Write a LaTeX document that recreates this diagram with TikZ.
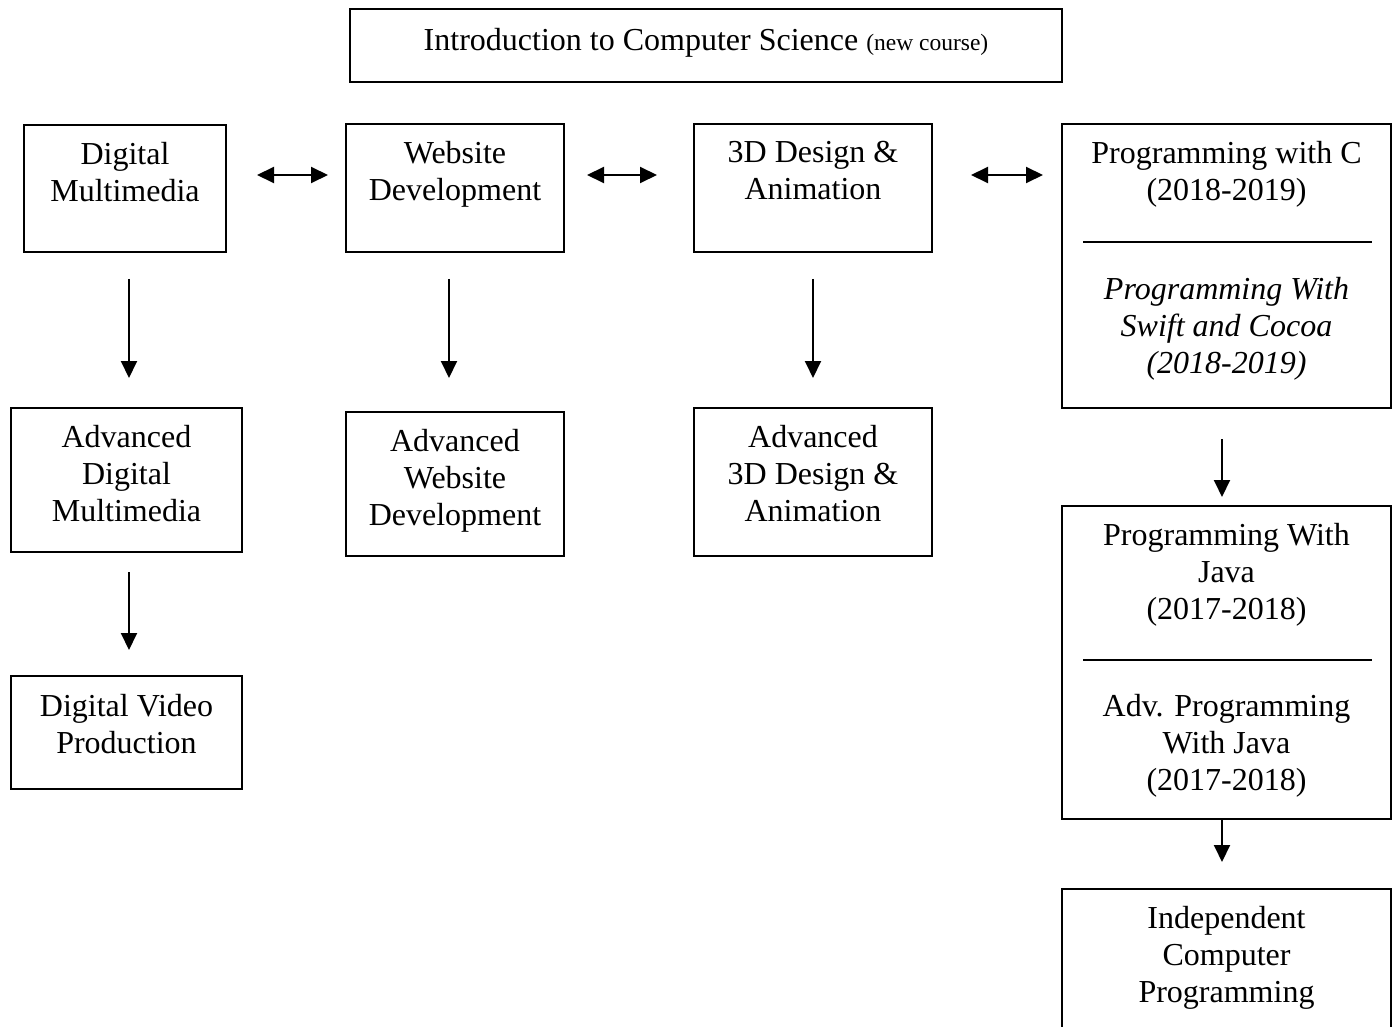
\documentclass[tikz,border=0pt]{standalone}
\usepackage{fontspec}
\setmainfont{Liberation Serif}
\usetikzlibrary{arrows.meta}
\begin{document}
\begin{tikzpicture}[x=1pt,y=-1pt,
  box/.style={draw, line width=2pt, inner sep=0pt, anchor=north west},
  txt/.style={anchor=north, inner sep=0pt, align=center, font=\fontsize{32}{37}\selectfont},
  arr/.style={line width=2pt, -{Triangle[length=17pt,width=16pt]}},
  darr/.style={line width=2pt, {Triangle[length=17pt,width=16pt]}-{Triangle[length=17pt,width=16pt]}},
  sep/.style={line width=1.5pt}]
\useasboundingbox (0,0) rectangle (1393,1027);
\clip (0,0) rectangle (1393,1027);
% top box
\node[box, minimum width=712pt, minimum height=73pt] (intro) at (349,8) {};
\node[inner sep=0pt, font=\fontsize{32}{37}\selectfont] (introt) at ([yshift=3pt]intro.center) {Introduction to Computer Science {\fontsize{23.5}{26}\selectfont(new course)}};
% row 1
\node[box, minimum width=202pt, minimum height=127pt] (dm) at (23,124) {};
\node[txt] (dmt) at ([yshift=-18pt]dm.north) {Digital\\Multimedia};
\node[box, minimum width=218pt, minimum height=128pt] (wd) at (345,123) {};
\node[txt] (wdt) at ([yshift=-18pt]wd.north) {Website\\Development};
\node[box, minimum width=238pt, minimum height=128pt] (td) at (693,123) {};
\node[txt] (tdt) at ([yshift=-18pt]td.north) {3D Design \&\\Animation};
\node[box, minimum width=329pt, minimum height=284pt] (pc) at (1061,123) {};
\node[txt] (pct) at ([yshift=-18pt]pc.north) {Programming with C\\(2018-2019)};
\draw[sep] ([xshift=22pt,yshift=-119pt]pc.north west) -- ([xshift=-20pt,yshift=-119pt]pc.north east);
\node[txt, font=\fontsize{32}{37}\selectfont\itshape] (pct2) at ([yshift=-154pt]pc.north) {Programming With\\Swift and Cocoa\\(2018-2019)};
% row 2
\node[box, minimum width=231pt, minimum height=144pt] (adm) at (10,407) {};
\node[txt] (admt) at ([yshift=-18pt]adm.north) {Advanced\\Digital\\Multimedia};
\node[box, minimum width=218pt, minimum height=144pt] (awd) at (345,411) {};
\node[txt] (awdt) at ([yshift=-18pt]awd.north) {Advanced\\Website\\Development};
\node[box, minimum width=238pt, minimum height=148pt] (atd) at (693,407) {};
\node[txt] (atdt) at ([yshift=-18pt]atd.north) {Advanced\\3D Design \&\\Animation};
\node[box, minimum width=329pt, minimum height=313pt] (pj) at (1061,505) {};
\node[txt] (pjt) at ([yshift=-18pt]pj.north) {Programming With\\Java\\(2017-2018)};
\draw[sep] ([xshift=22pt,yshift=-155pt]pj.north west) -- ([xshift=-20pt,yshift=-155pt]pj.north east);
\node[txt] (pjt2) at ([yshift=-189pt]pj.north) {Adv. Programming\\With Java\\(2017-2018)};
% row 3
\node[box, minimum width=231pt, minimum height=113pt] (dvp) at (10,675) {};
\node[txt] (dvpt) at ([yshift=-19pt]dvp.north) {Digital Video\\Production};
\node[box, minimum width=329pt, minimum height=160pt] (icp) at (1061,888) {};
\node[txt] (icpt) at ([yshift=-18pt]icp.north) {Independent\\Computer\\Programming};
% horizontal double arrows
\coordinate (hy) at (0,175);
\draw[darr] ([xshift=30pt]dm.east |- hy) -- ([xshift=-17pt]wd.west |- hy);
\draw[darr] ([xshift=22pt]wd.east |- hy) -- ([xshift=-36pt]td.west |- hy);
\draw[darr] ([xshift=38pt]td.east |- hy) -- ([xshift=-18pt]pc.west |- hy);
% vertical arrows
\draw[arr] ([xshift=4pt,yshift=-26pt]dm.south) -- ([xshift=4pt,yshift=29pt]dm.south |- adm.north);
\draw[arr] ([xshift=-6pt,yshift=-26pt]wd.south) -- ([xshift=-6pt,yshift=33pt]wd.south |- awd.north);
\draw[arr] ([yshift=-26pt]td.south) -- ([yshift=29pt]td.south |- atd.north);
\draw[arr] ([xshift=-4.5pt,yshift=-30pt]pc.south) -- ([xshift=-4.5pt,yshift=8pt]pc.south |- pj.north);
\draw[arr] ([xshift=2.5pt,yshift=-19pt]adm.south) -- ([xshift=2.5pt,yshift=25pt]adm.south |- dvp.north);
\draw[arr] ([xshift=-4.5pt]pj.south) -- ([xshift=-4.5pt,yshift=26pt]pj.south |- icp.north);
\end{tikzpicture}
\end{document}
